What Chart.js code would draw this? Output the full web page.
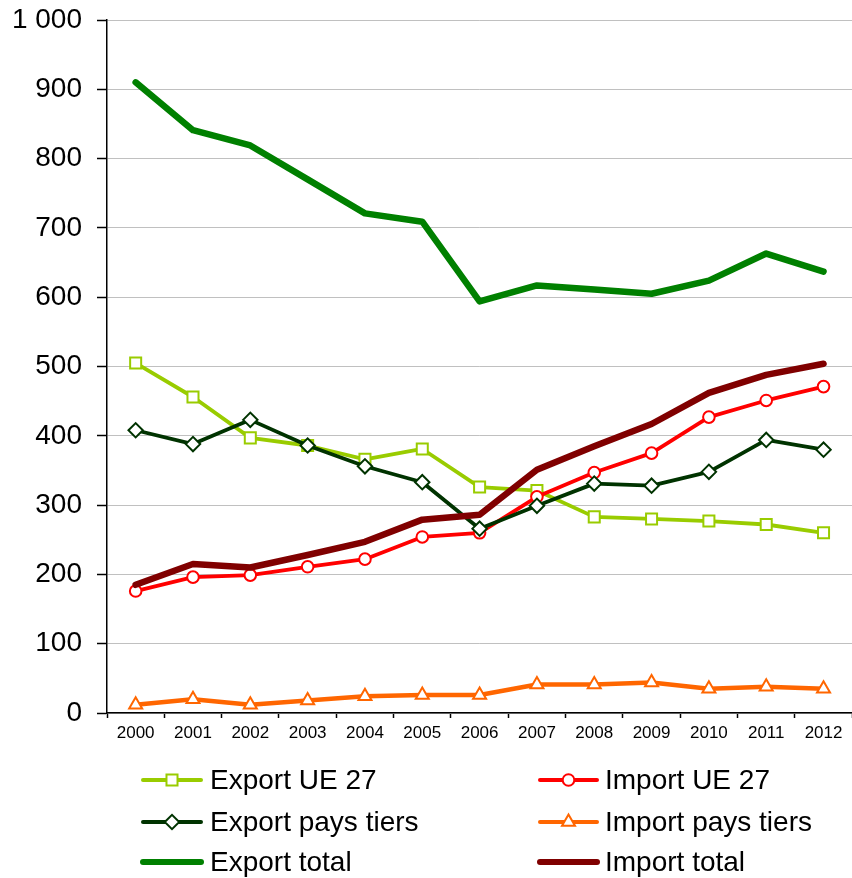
<!DOCTYPE html>
<html lang="fr">
<head>
<meta charset="utf-8">
<title>Export / Import</title>
<script src="https://cdn.jsdelivr.net/npm/chart.js@4/dist/chart.umd.min.js"></script>
<style>
    html, body { margin: 0; padding: 0; background: #fff; overflow: hidden; }
    #wrap { position: relative; width: 862px; height: 878px; }
</style>
</head>
<body>
<div id="wrap"><canvas id="echanges"></canvas></div>
<script>
// données
const annees = ['2000', '2001', '2002', '2003', '2004', '2005', '2006', '2007', '2008', '2009', '2010', '2011', '2012'];
const exportUE = [505, 456, 397, 386, 366, 381, 326, 321, 283, 280, 277, 272, 260];
const importUE = [176, 196, 199, 211, 222, 254, 260, 312, 347, 375, 427, 451, 471];
const exportTiers = [408, 388, 423, 386, 356, 333, 266, 299, 331, 328, 348, 394, 380];
const importTiers = [12, 20, 12, 18, 24, 26, 26, 41, 41, 44, 35, 38, 35];
const exportTotal = [910, 841, 819, 770, 721, 709, 594, 617, 611, 605, 624, 663, 637];
const importTotal = [185, 215, 210, 228, 247, 279, 286, 351, 385, 417, 462, 488, 504];
const yTicks = [0, 100, 200, 300, 400, 500, 600, 700, 800, 900, 1000];

const police = '"Liberation Sans", Arial, sans-serif';

function serie(label, data, couleur, largeur, forme, rayon, ordre) {
    return {
        label: label,
        data: data,
        borderColor: couleur,
        backgroundColor: couleur,
        borderWidth: largeur,
        borderJoinStyle: 'round',
        borderCapStyle: 'round',
        tension: 0,
        pointStyle: forme || false,
        pointRadius: forme ? rayon : 0,
        pointBorderWidth: 2,
        pointBorderColor: couleur,
        pointBackgroundColor: '#ffffff',
        order: ordre
    };
}

const datasets = [
    serie('Export UE 27', exportUE, '#99cc00', 3.8, 'rect', 7.8, 6),
    serie('Import UE 27', importUE, '#ff0000', 3.8, 'circle', 5.8, 5),
    serie('Export pays tiers', exportTiers, '#003300', 3.8, 'rectRot', 7.2, 4),
    serie('Import pays tiers', importTiers, '#ff6600', 4.5, 'triangle', 7.5, 3),
    serie('Export total', exportTotal, '#008000', 6.5, null, 0, 2),
    serie('Import total', importTotal, '#800000', 6.5, null, 0, 1)
];

// légende sur deux colonnes, dessinée sous l'axe
const legendeDeuxColonnes = {
    id: 'legendeDeuxColonnes',
    afterDraw(chart) {
        const ctx = chart.ctx;
        const cols = [{ x0: 143, x1: 201, tx: 210 }, { x0: 540, x1: 597, tx: 605 }];
        const rows = [780, 822, 862];
        chart.data.datasets.forEach((ds, i) => {
            const c = cols[i % 2];
            const y = rows[Math.floor(i / 2)];
            ctx.save();
            ctx.strokeStyle = ds.borderColor;
            ctx.lineWidth = ds.pointStyle ? 4 : 6;
            ctx.lineCap = 'round';
            ctx.beginPath();
            ctx.moveTo(c.x0, y);
            ctx.lineTo(c.x1, y);
            ctx.stroke();
            if (ds.pointStyle) {
                ctx.fillStyle = '#ffffff';
                ctx.strokeStyle = ds.borderColor;
                ctx.lineWidth = 2;
                Chart.helpers.drawPoint(ctx, {
                    pointStyle: ds.pointStyle,
                    radius: ds.pointRadius,
                    rotation: 0,
                    borderWidth: 2
                }, (c.x0 + c.x1) / 2, y);
            }
            ctx.fillStyle = '#000000';
            ctx.font = '28px ' + police;
            ctx.textAlign = 'left';
            ctx.textBaseline = 'middle';
            ctx.fillText(ds.label, c.tx, y + 1);
            ctx.restore();
        });
    }
};

new Chart(document.getElementById('echanges'), {
    type: 'line',
    data: { labels: annees, datasets: datasets },
    options: {
        responsive: true,
        maintainAspectRatio: false,
        animation: false,
        layout: { padding: { top: 20, right: 2, left: 0, bottom: 0 } },
        plugins: {
            legend: { display: false },
            tooltip: { enabled: false }
        },
        scales: {
            x: {
                offset: true,
                grid: {
                    offset: true,
                    drawOnChartArea: false,
                    drawTicks: true,
                    tickLength: 5,
                    tickColor: '#000000',
                    tickWidth: 1.5
                },
                border: { color: '#000000', width: 1.5 },
                ticks: {
                    color: '#000000',
                    font: { family: police, size: 17 },
                    padding: 5,
                    maxRotation: 0,
                    autoSkip: false
                },
                afterFit(s) { s.height = 165; }
            },
            y: {
                min: 0,
                max: 1000,
                afterBuildTicks(s) { s.ticks = yTicks.map(v => ({ value: v })); },
                grid: {
                    color: '#c0c0c0',
                    lineWidth: 1,
                    tickLength: 10,
                    tickColor: '#000000',
                    tickWidth: 1.5
                },
                border: { color: '#000000', width: 1.5 },
                ticks: {
                    color: '#000000',
                    font: { family: police, size: 28 },
                    padding: 15,
                    callback: v => v >= 1000 ? Math.floor(v / 1000) + ' ' + String(v % 1000).padStart(3, '0') : String(v)
                },
                afterFit(s) {
                    s.width = 107;
                    s.paddingTop = 0;
                    s.paddingBottom = 0;
                }
            }
        }
    },
    plugins: [legendeDeuxColonnes]
});
</script>
</body>
</html>
